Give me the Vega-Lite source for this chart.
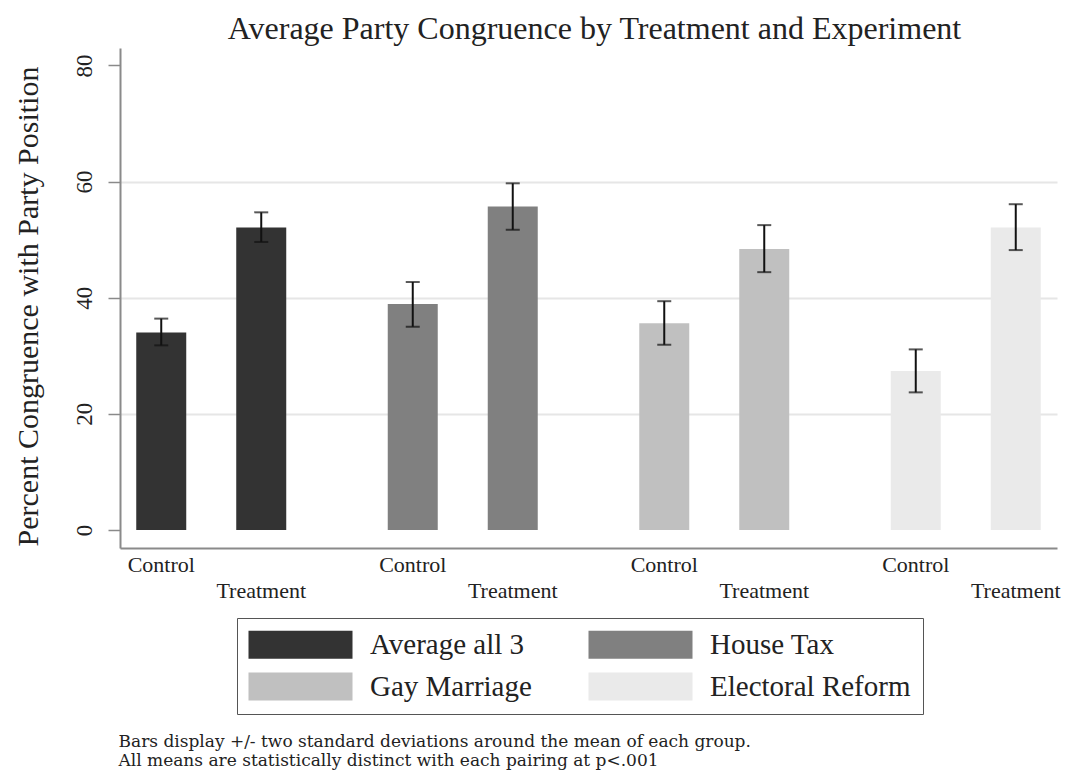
{
  "$schema": "https://vega.github.io/schema/vega-lite/v6.json",
  "autosize": "none",
  "width": 937,
  "height": 500,
  "padding": {"left": 120, "top": 48, "right": 14, "bottom": 231},
  "background": "white",
  "config": {
    "font": "Liberation Serif",
    "view": {"stroke": null},
    "title": {"font": "Liberation Serif", "fontSize": 32, "fontWeight": "normal", "color": "#222222"}
  },
  "title": {"text": "Average Party Congruence by Treatment and Experiment", "anchor": "middle", "dx": 6, "offset": 2},
  "data": {
    "values": [
      {"experiment": "Average all 3", "condition": "Control", "mean": 34.0, "lo": 31.8, "hi": 36.4},
      {"experiment": "Average all 3", "condition": "Treatment", "mean": 52.1, "lo": 49.6, "hi": 54.7},
      {"experiment": "House Tax", "condition": "Control", "mean": 38.9, "lo": 35.0, "hi": 42.7},
      {"experiment": "House Tax", "condition": "Treatment", "mean": 55.7, "lo": 51.7, "hi": 59.7},
      {"experiment": "Gay Marriage", "condition": "Control", "mean": 35.6, "lo": 31.9, "hi": 39.4},
      {"experiment": "Gay Marriage", "condition": "Treatment", "mean": 48.4, "lo": 44.4, "hi": 52.5},
      {"experiment": "Electoral Reform", "condition": "Control", "mean": 27.4, "lo": 23.7, "hi": 31.1},
      {"experiment": "Electoral Reform", "condition": "Treatment", "mean": 52.1, "lo": 48.2, "hi": 56.1}
    ]
  },
  "encoding": {
    "x": {
      "field": "experiment",
      "type": "nominal",
      "sort": ["Average all 3", "House Tax", "Gay Marriage", "Electoral Reform"],
      "scale": {"paddingInner": 0.4036, "paddingOuter": 0.0646},
      "axis": {
        "labels": false,
        "ticks": false,
        "grid": false,
        "domainColor": "#8a8a8a",
        "domainWidth": 2,
        "title": ["Bars display +/- two standard deviations around the mean of each group.", "All means are statistically distinct with each pairing at p<.001"],
        "titleFont": "DejaVu Serif",
        "titleFontSize": 17,
        "titleFontWeight": "normal",
        "titleColor": "#222222",
        "titleAnchor": "start",
        "titleAlign": "left",
        "titleBaseline": "alphabetic",
        "titleLineHeight": 19,
        "titleX": -2,
        "titleY": 198
      }
    },
    "xOffset": {
      "field": "condition",
      "type": "nominal",
      "sort": ["Control", "Treatment"],
      "scale": {"paddingInner": 0.5, "paddingOuter": 0}
    }
  },
  "layer": [
    {
      "mark": {"type": "bar", "opacity": 1},
      "encoding": {
        "y": {
          "field": "mean",
          "type": "quantitative",
          "scale": {"domain": [-3.1, 83], "nice": false, "zero": false},
          "axis": {
            "values": [0, 20, 40, 60, 80],
            "title": "Percent Congruence with Party Position",
            "titleFont": "Liberation Serif",
            "titleFontSize": 30,
            "titleFontWeight": "normal",
            "titleColor": "#222222",
            "titlePadding": 30,
            "titleY": 258,
            "labelFont": "Liberation Serif",
            "labelFontSize": 23,
            "labelColor": "#222222",
            "labelAngle": 270,
            "labelAlign": "center",
            "labelBaseline": "bottom",
            "labelPadding": 12,
            "tickSize": 12,
            "tickColor": "#8a8a8a",
            "tickWidth": 1.5,
            "domainColor": "#8a8a8a",
            "domainWidth": 2,
            "grid": true,
            "gridColor": "#e6e6e6",
            "gridWidth": 2,
            "gridOpacity": {"condition": {"test": "datum.value === 0 || datum.value === 80", "value": 0}, "value": 1}
          }
        },
        "y2": {"datum": 0},
        "color": {
          "field": "experiment",
          "type": "nominal",
          "scale": {
            "domain": ["Average all 3", "House Tax", "Gay Marriage", "Electoral Reform"],
            "range": ["#333333", "#808080", "#c0c0c0", "#eaeaea"]
          },
          "legend": {
            "orient": "none",
            "legendX": 117,
            "legendY": 570,
            "direction": "horizontal",
            "columns": 2,
            "title": null,
            "strokeColor": "#555555",
            "padding": 12,
            "symbolType": "M-15,-14H89V14H-15Z",
            "symbolSize": 4,
            "symbolStrokeWidth": 0,
            "symbolOpacity": 1,
            "labelFont": "Liberation Serif",
            "labelFontSize": 29,
            "labelColor": "#222222",
            "labelOffset": 92,
            "labelLimit": 400,
            "columnPadding": 56,
            "rowPadding": 12
          }
        }
      }
    },
    {
      "mark": {"type": "rule", "color": "#111111", "strokeWidth": 2},
      "encoding": {
        "y": {"field": "lo", "type": "quantitative"},
        "y2": {"field": "hi"}
      }
    },
    {
      "mark": {"type": "tick", "color": "#111111", "size": 14, "thickness": 2},
      "encoding": {"y": {"field": "lo", "type": "quantitative"}}
    },
    {
      "mark": {"type": "tick", "color": "#111111", "size": 14, "thickness": 2},
      "encoding": {"y": {"field": "hi", "type": "quantitative"}}
    },
    {
      "transform": [{"filter": "datum.condition === 'Control'"}],
      "mark": {"type": "text", "fontSize": 22, "color": "#222222", "baseline": "middle", "dy": 35},
      "encoding": {"y": {"datum": 0}, "text": {"field": "condition"}}
    },
    {
      "transform": [{"filter": "datum.condition === 'Treatment'"}],
      "mark": {"type": "text", "fontSize": 22, "color": "#222222", "baseline": "middle", "dy": 61},
      "encoding": {"y": {"datum": 0}, "text": {"field": "condition"}}
    }
  ]
}
